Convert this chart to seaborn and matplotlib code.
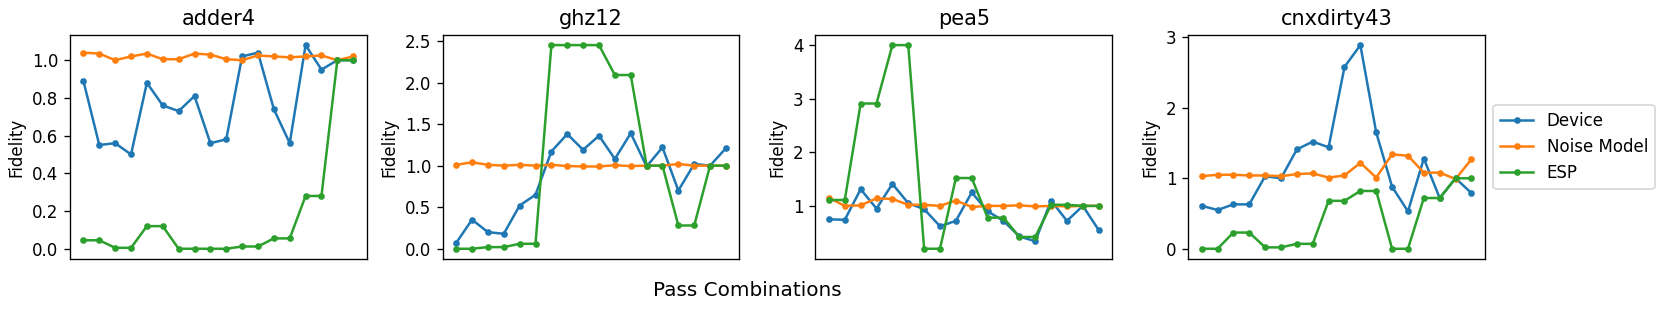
import pandas as pd
import numpy as np
import matplotlib
matplotlib.use("Agg")
import matplotlib.pyplot as plt
import seaborn as sns

benchmarks = ["adder4", "ghz12", "pea5", "cnxdirty43"]
series_names = ["Device", "Noise Model", "ESP"]

adder4_device = [0.89, 0.55, 0.56, 0.50, 0.88, 0.76, 0.73, 0.81, 0.56, 0.58,
                 1.02, 1.04, 0.74, 0.56, 1.08, 0.95, 1.00, 1.00]
adder4_noise = [1.04, 1.035, 1.00, 1.02, 1.035, 1.005, 1.005, 1.035, 1.03, 1.005,
                1.00, 1.025, 1.02, 1.015, 1.02, 1.025, 1.00, 1.02]
adder4_esp = [0.045, 0.045, 0.005, 0.005, 0.12, 0.12, 0.0, 0.0, 0.0, 0.0,
              0.012, 0.012, 0.055, 0.055, 0.28, 0.28, 1.00, 1.00]

ghz12_device = [0.07, 0.35, 0.20, 0.18, 0.52, 0.65, 1.17, 1.38, 1.19, 1.36,
                1.08, 1.39, 0.99, 1.22, 0.70, 1.02, 1.00, 1.21]
ghz12_noise = [1.01, 1.04, 1.01, 1.00, 1.01, 1.00, 1.01, 0.995, 0.99, 0.99,
               1.005, 0.995, 1.00, 1.00, 1.02, 1.00, 1.00, 1.00]
ghz12_esp = [0.0, 0.0, 0.02, 0.02, 0.06, 0.06, 2.45, 2.45, 2.45, 2.45,
             2.09, 2.09, 1.00, 1.00, 0.28, 0.28, 1.00, 1.00]

pea5_device = [0.75, 0.74, 1.31, 0.95, 1.41, 1.05, 0.94, 0.62, 0.72, 1.25,
               0.90, 0.72, 0.43, 0.34, 1.10, 0.72, 1.00, 0.55]
pea5_noise = [1.15, 1.00, 1.01, 1.14, 1.13, 1.02, 1.02, 1.00, 1.10, 0.98,
              1.00, 1.00, 1.01, 0.99, 1.00, 0.99, 1.00, 1.00]
pea5_esp = [1.11, 1.11, 2.91, 2.91, 4.00, 4.00, 0.20, 0.20, 1.52, 1.52,
            0.78, 0.78, 0.42, 0.42, 1.02, 1.02, 1.00, 1.00]

cnx_device = [0.61, 0.55, 0.63, 0.63, 1.03, 1.00, 1.41, 1.52, 1.44, 2.58,
              2.89, 1.65, 0.88, 0.53, 1.28, 0.72, 1.00, 0.79]
cnx_noise = [1.03, 1.05, 1.05, 1.04, 1.04, 1.03, 1.06, 1.07, 1.01, 1.04,
             1.22, 1.01, 1.34, 1.32, 1.08, 1.08, 0.99, 1.27]
cnx_esp = [0.0, 0.0, 0.23, 0.23, 0.02, 0.02, 0.07, 0.07, 0.68, 0.68,
           0.82, 0.82, 0.0, 0.0, 0.72, 0.72, 1.00, 1.00]

data = {
    "adder4": [adder4_device, adder4_noise, adder4_esp],
    "ghz12": [ghz12_device, ghz12_noise, ghz12_esp],
    "pea5": [pea5_device, pea5_noise, pea5_esp],
    "cnxdirty43": [cnx_device, cnx_noise, cnx_esp],
}


def to_frame(values):
    rows = []
    for name, vals in zip(series_names, values):
        for i, v in enumerate(vals):
            rows.append({"combo": i, "fidelity": v, "series": name})
    return pd.DataFrame(rows)


fig, axes = plt.subplots(1, 4, figsize=(1661 / 120, 309 / 120), dpi=120)
fig.subplots_adjust(left=0.0421, right=0.894, bottom=0.162, top=0.887, wspace=0.256)

for i, (ax, bench) in enumerate(zip(axes, benchmarks)):
    df = to_frame(data[bench])
    sns.lineplot(data=df, x="combo", y="fidelity", hue="series",
                 palette=["C0", "C1", "C2"], marker="o", markersize=4,
                 markeredgewidth=0, linewidth=1.5, ax=ax,
                 legend=(i == len(benchmarks) - 1))
    ax.set_title(bench, fontsize=12.5)
    ax.set_xticks([])
    ax.set_xlabel("")
    ax.set_ylabel("Fidelity")

leg = axes[-1].get_legend()
handles = leg.legend_handles
labels = [t.get_text() for t in leg.texts]
leg.remove()
axes[-1].legend(handles, labels, loc="center left", bbox_to_anchor=(1.0, 0.5))

fig.supxlabel("Pass Combinations", fontsize=12, x=0.45, y=0.03)

fig.savefig("out.png", dpi=120)
